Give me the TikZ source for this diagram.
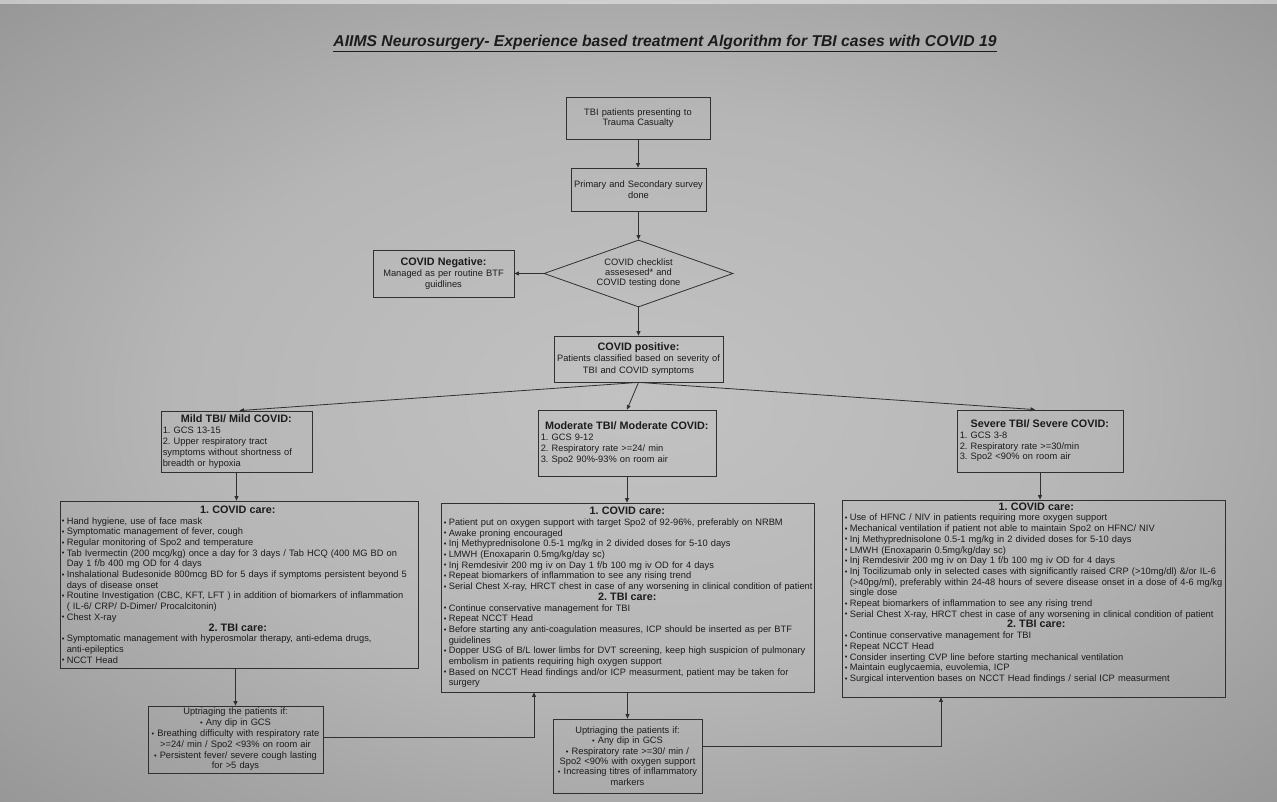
\documentclass[tikz,border=0pt]{standalone}
\usepackage{fontspec}
\setmainfont{Liberation Sans}
\usetikzlibrary{arrows.meta,shapes.geometric,calc}
\setlength{\parindent}{0pt}
\frenchspacing
\definecolor{bgin}{RGB}{194,194,194}
\definecolor{bgmid}{RGB}{182,182,182}
\definecolor{bgout}{RGB}{150,150,150}
\definecolor{ink}{RGB}{28,28,28}
\definecolor{edge}{RGB}{48,48,48}
\pgfdeclareradialshading{vig}{\pgfpoint{0bp}{0bp}}{color(0bp)=(bgin); color(18bp)=(bgmid); color(36bp)=(bgout); color(50bp)=(bgout)}
\newcommand{\bu}{\makebox[5pt][l]{\raisebox{0.4pt}{\fontsize{7.5}{7.5}\selectfont •}}}
\newcommand{\sbu}{{\fontsize{7.5}{7.5}\selectfont •}}
\newcommand{\cn}{\hspace*{5pt}}
\newcommand{\hdr}[2]{\makebox[#1][c]{\fontsize{10.8}{10.7}\selectfont\bfseries #2}}
\newcommand{\bhd}[1]{{\fontsize{10.8}{10.7}\selectfont\bfseries #1}}
\tikzset{
  box/.style={draw=edge, line width=0.8pt, rectangle, inner sep=0pt},
  conn/.style={draw=edge, line width=0.8pt, -{Triangle[length=4.5pt,width=4pt]}},
  body/.style={text=ink, inner sep=0pt, font=\fontsize{9.3}{10.7}\selectfont},
  ctext/.style={body, align=center, text width=300},
}
\begin{document}
\begin{tikzpicture}[x=1pt,y=-1pt]
\useasboundingbox (0,0) rectangle (1277,802);
\fill[bgout] (0,0) rectangle (1277,802);
\shade[shading=vig] (0,0) rectangle (1277,802);
\fill[white, opacity=0.45] (0,0) rectangle (1277,4);

% title
\node[font=\fontsize{15.7}{18}\selectfont\bfseries\itshape, text=ink, inner sep=0pt, anchor=base] (title) at (665,47)
  {\underline{AIIMS Neurosurgery- Experience based treatment Algorithm for TBI cases with COVID 19}};

% top flow
\node[box, minimum width=144, minimum height=42] (tb) at (638,118) {};
\node[ctext] (tbt) at (tb.center) {TBI patients presenting to\\Trauma Casualty};
\node[box, minimum width=135, minimum height=43] (ps) at (638.5,189.5) {};
\node[ctext] (pst) at (ps.center) {Primary and Secondary survey\\done};
\node[draw=edge, line width=0.8pt, diamond, minimum width=189, minimum height=67, inner sep=0pt] (dm) at (638.5,273.5) {};
\node[ctext, font=\fontsize{9.3}{10}\selectfont] (dmt) at (dm.center)
  {COVID checklist\\assesesed* and\\COVID testing done};
\node[box, minimum width=141, minimum height=47] (neg) at (443.5,273.5) {};
\node[ctext, font=\fontsize{9.3}{11}\selectfont] (negt) at (neg.center)
  {\bhd{COVID Negative:}\\Managed as per routine BTF\\guidlines};
\node[box, minimum width=169, minimum height=46] (pos) at (638.5,359) {};
\node[ctext, font=\fontsize{9.3}{11.2}\selectfont] (post) at (pos.center)
  {\bhd{COVID positive:}\\Patients classified based on severity of\\TBI and COVID symptoms};

% severity boxes
\node[box, minimum width=151, minimum height=61] (mild) at (236.5,441.5) {};
\node[body, align=left, text width=200, anchor=west, font=\fontsize{9.3}{11}\selectfont] (mildt) at ([xshift=2pt]mild.west)
  {\hdr{147pt}{Mild TBI/ Mild COVID:}\\1. GCS 13-15\\2. Upper respiratory tract\\symptoms without shortness of\\breadth or hypoxia};
\node[box, minimum width=178, minimum height=66] (mod) at (627,443) {};
\node[body, align=left, text width=220, anchor=west, font=\fontsize{9.3}{11}\selectfont] (modt) at ([xshift=3pt]mod.west)
  {\hdr{172pt}{Moderate TBI/ Moderate COVID:}\\1. GCS 9-12\\2. Respiratory rate >=24/ min\\3. Spo2 90\%-93\% on room air};
\node[box, minimum width=166, minimum height=62] (sev) at (1040,441) {};
\node[body, align=left, text width=220, anchor=west, font=\fontsize{9.3}{10.7}\selectfont] (sevt) at ([xshift=3pt]sev.west)
  {\hdr{160pt}{Severe TBI/ Severe COVID:}\\1. GCS 3-8\\2. Respiratory rate >=30/min\\3. Spo2 <90\% on room air};

% care boxes
\node[box, minimum width=358, minimum height=167] (lc) at (239,584.5) {};
\node[body, align=left, text width=440, anchor=west] (lct) at ([xshift=2pt]lc.west)
  {\hdr{352pt}{1. COVID care:}\\
   \bu Hand hygiene, use of face mask\\
   \bu Symptomatic management of fever, cough\\
   \bu Regular monitoring of Spo2 and temperature\\
   \bu Tab Ivermectin (200 mcg/kg) once a day for 3 days / Tab HCQ (400 MG BD on\\
   \cn Day 1 f/b 400 mg OD for 4 days\\
   \bu Inshalational Budesonide 800mcg BD for 5 days if symptoms persistent beyond 5\\
   \cn days of disease onset\\
   \bu Routine Investigation (CBC, KFT, LFT ) in addition of biomarkers of inflammation\\
   \cn ( IL-6/ CRP/ D-Dimer/ Procalcitonin)\\
   \bu Chest X-ray\\
   \hdr{352pt}{2. TBI care:}\\
   \bu Symptomatic management with hyperosmolar therapy, anti-edema drugs,\\
   \cn anti-epileptics\\
   \bu NCCT Head};

\node[box, minimum width=373, minimum height=189] (mc) at (627.5,597.5) {};
\node[body, align=left, text width=460, anchor=west] (mct) at ([xshift=3pt]mc.west)
  {\hdr{367pt}{1. COVID care:}\\
   \bu Patient put on oxygen support with target Spo2 of 92-96\%, preferably on NRBM\\
   \bu Awake proning encouraged\\
   \bu Inj Methyprednisolone 0.5-1 mg/kg in 2 divided doses for 5-10 days\\
   \bu LMWH (Enoxaparin 0.5mg/kg/day sc)\\
   \bu Inj Remdesivir 200 mg iv on Day 1 f/b 100 mg iv OD for 4 days\\
   \bu Repeat biomarkers of inflammation to see any rising trend\\
   \bu Serial Chest X-ray, HRCT chest in case of any worsening in clinical condition of patient\\
   \hdr{367pt}{2. TBI care:}\\
   \bu Continue conservative management for TBI\\
   \bu Repeat NCCT Head\\
   \bu Before starting any anti-coagulation measures, ICP should be inserted as per BTF\\
   \cn guidelines\\
   \bu Dopper USG of B/L lower limbs for DVT screening, keep high suspicion of pulmonary\\
   \cn embolism in patients requiring high oxygen support\\
   \bu Based on NCCT Head findings and/or ICP measurment, patient may be taken for\\
   \cn surgery};

\node[box, minimum width=383, minimum height=197] (rc) at (1033.5,598.5) {};
\node[body, align=left, text width=470, anchor=west] (rct) at ([xshift=3pt,yshift=5.5pt]rc.west)
  {\hdr{383pt}{1. COVID care:}\\
   \bu Use of HFNC / NIV in patients requiring more oxygen support\\
   \bu Mechanical ventilation if patient not able to maintain Spo2 on HFNC/ NIV\\
   \bu Inj Methyprednisolone 0.5-1 mg/kg in 2 divided doses for 5-10 days\\
   \bu LMWH (Enoxaparin 0.5mg/kg/day sc)\\
   \bu Inj Remdesivir 200 mg iv on Day 1 f/b 100 mg iv OD for 4 days\\
   \bu Inj Tocilizumab only in selected cases with significantly raised CRP (>10mg/dl) \&/or IL-6\\
   \cn (>40pg/ml), preferably within 24-48 hours of severe disease onset in a dose of 4-6 mg/kg\\
   \cn single dose\\
   \bu Repeat biomarkers of inflammation to see any rising trend\\
   \bu Serial Chest X-ray, HRCT chest in case of any worsening in clinical condition of patient\\
   \hdr{383pt}{2. TBI care:}\\
   \bu Continue conservative management for TBI\\
   \bu Repeat NCCT Head\\
   \bu Consider inserting CVP line before starting mechanical ventilation\\
   \bu Maintain euglycaemia, euvolemia, ICP\\
   \bu Surgical intervention bases on NCCT Head findings / serial ICP measurment};

% uptriage boxes
\node[box, minimum width=175, minimum height=67] (mu) at (235.5,739.5) {};
\node[ctext, font=\fontsize{9.3}{10.8}\selectfont] (mut) at (mu.center)
  {Uptriaging the patients if:\\
   \sbu\ Any dip in GCS\\
   \sbu\ Breathing difficulty with respiratory rate\\
   >=24/ min / Spo2 <93\% on room air\\
   \sbu\ Persistent fever/ severe cough lasting\\
   for >5 days};
\node[box, minimum width=149, minimum height=74] (muu) at (627.5,756) {};
\node[ctext, font=\fontsize{9.3}{10.4}\selectfont] (muut) at (muu.center)
  {Uptriaging the patients if:\\
   \sbu\ Any dip in GCS\\
   \sbu\ Respiratory rate >=30/ min /\\
   Spo2 <90\% with oxygen support\\
   \sbu\ Increasing titres of inflammatory\\
   markers};

% connectors
\draw[conn] (tb.south) -- (tb.south |- ps.north);
\draw[conn] (ps.south) -- (ps.south |- dm.north);
\draw[conn] (dm.west) -- (neg.east);
\draw[conn] (dm.south) -- (dm.south |- pos.north);
\draw[conn] (pos.south) -- ([xshift=3pt]mild.north);
\draw[conn] (pos.south) -- (mod.north);
\draw[conn] (pos.south) -- ([xshift=-5pt]sev.north);
\draw[conn] (mild.south) -- (mild.south |- lc.north);
\draw[conn] (mod.south) -- (mod.south |- mc.north);
\draw[conn] (sev.south) -- (sev.south |- rc.north);
\draw[conn] (mu.north |- lc.south) -- (mu.north);
\draw[conn] (mc.south) -- (muu.north);
\draw[conn] ([yshift=2.5pt]mu.east) -| ([xshift=-93.5pt]mc.south);
\draw[conn] ([yshift=10pt]muu.east) -| ([xshift=-92.5pt]rc.south);
\end{tikzpicture}
\end{document}
